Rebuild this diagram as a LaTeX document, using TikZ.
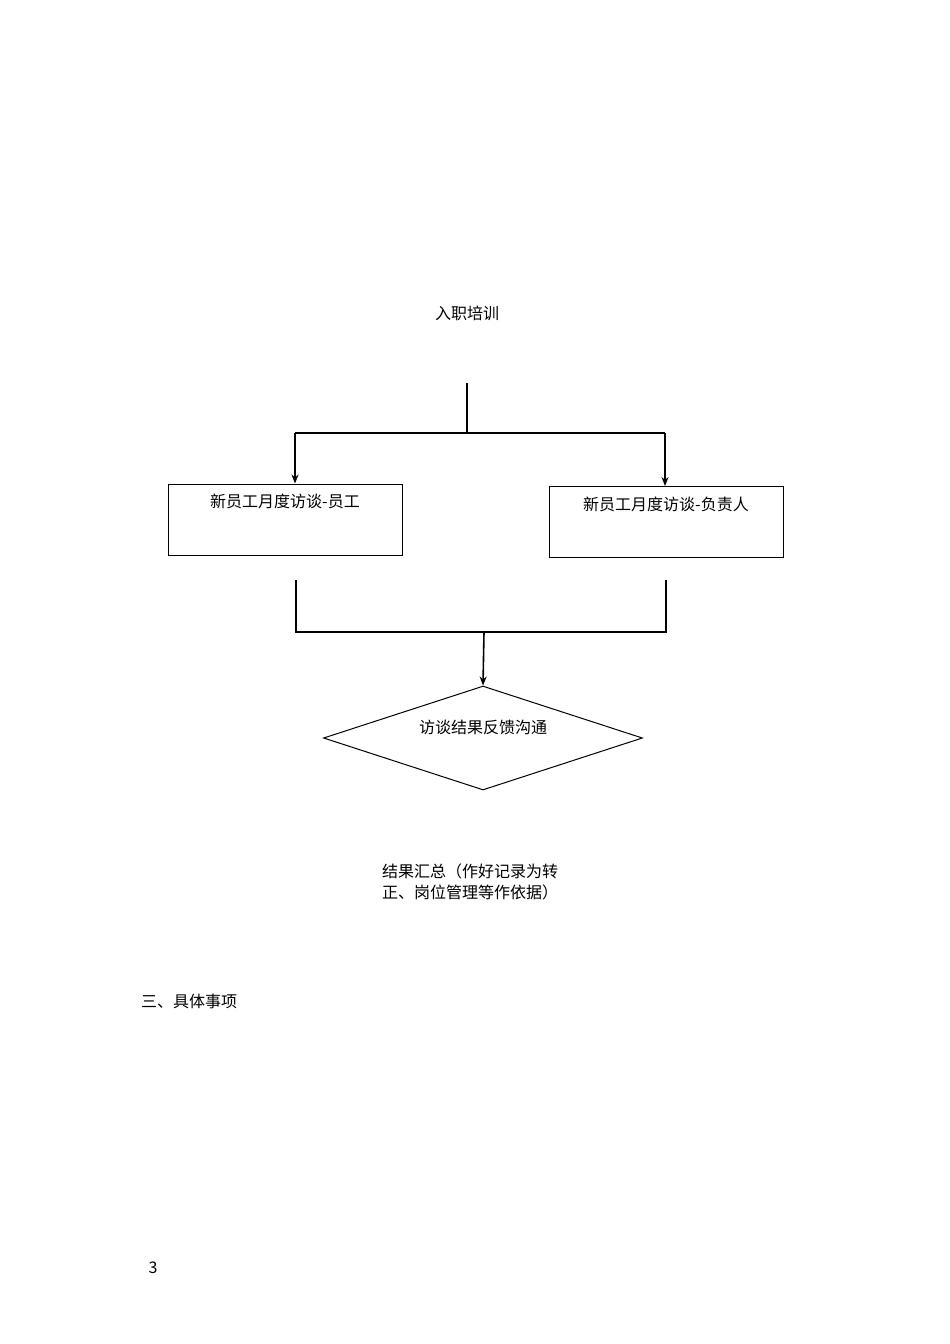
\documentclass[tikz,border=0pt]{standalone}
\usepackage{fontspec}
\setmainfont{Noto Sans CJK SC}
\usetikzlibrary{shapes.geometric}
\usetikzlibrary{arrows.meta}
\usetikzlibrary{positioning}
\tikzstyle{label} = [font={\fontsize{16}{21}\selectfont}, inner sep=0pt]
\tikzstyle{box} = [draw, line width=1pt, minimum width=234pt, minimum height=71pt]
\tikzstyle{line} = [line width=1.6pt]
\tikzstyle{arrow} = [line width=1.6pt, -{Stealth[length=9pt,width=7pt]}]

\begin{document}
\begin{tikzpicture}[x=1pt, y=-1pt]
        \useasboundingbox (0,0) rectangle (950,1344);
        \node [label] (train) at (467,313) {入职培训};
        \coordinate (top) at (467,383);
        \coordinate (split) at (467,433);
        \coordinate (splitL) at (295,433);
        \coordinate (splitR) at (665,433);
        \node [box] (staff) at (285,519.5) {};
        \node [label] at (285,501) {新员工月度访谈-员工};
        \node [box] (lead) at (666,522) {};
        \node [label] at (666,504) {新员工月度访谈-负责人};
        \coordinate (outL) at (296,580);
        \coordinate (outR) at (666,580);
        \coordinate (joinL) at (296,632);
        \coordinate (joinR) at (666,632);
        \coordinate (join) at (484,632);
        \node [draw, line width=1pt, diamond, aspect=3.1, minimum width=319pt, minimum height=104pt, inner sep=0pt] (talk) at (483,738) {};
        \node [label] at (483,727) {访谈结果反馈沟通};
        \node [label, align=left, anchor=west] (sum) at (382,881.5) {结果汇总（作好记录为转\\正、岗位管理等作依据）};
        \node [label, anchor=west] (sec) at (141,1001) {三、具体事项};
        \node [label] (page) at (153,1268) {3};
        \draw [line] (top) -- (split);
        \draw [line] (splitL) -- (splitR);
        \draw [arrow] (splitL) -- (staff.north -| splitL);
        \draw [arrow] (splitR) -- (lead.north -| splitR);
        \draw [line] (outL) -- (joinL) -- (joinR) -- (outR);
        \draw [arrow] (join) -- (talk.north);
\end{tikzpicture}
\end{document}
